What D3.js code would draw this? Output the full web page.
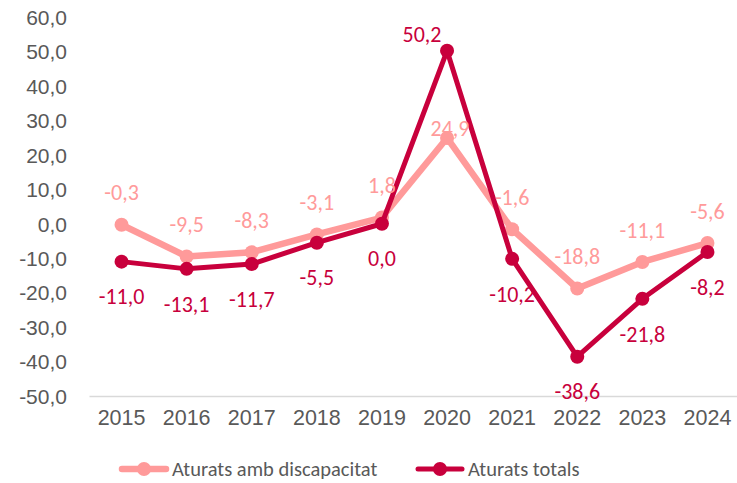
<!DOCTYPE html>
<html>
<head>
<meta charset="utf-8">
<script src="https://cdn.jsdelivr.net/npm/d3@7"></script>
<style>
  html, body { margin: 0; padding: 0; background: #fff; }
  svg { display: block; font-family: Carlito, Lato, "Liberation Sans", sans-serif; }
</style>
</head>
<body>
<svg id="chart" width="737" height="483"></svg>
<script>
// Annual variation (%) of registered unemployment
const years = ["2015", "2016", "2017", "2018", "2019", "2020", "2021", "2022", "2023", "2024"];
const disabilityValues = [-0.3, -9.5, -8.3, -3.1, 1.8, 24.9, -1.6, -18.8, -11.1, -5.6];
const totalValues = [-11.0, -13.1, -11.7, -5.5, 0.0, 50.2, -10.2, -38.6, -21.8, -8.2];
const yTicks = [60, 50, 40, 30, 20, 10, 0, -10, -20, -30, -40, -50];
const seriesNames = ["Aturats amb discapacitat", "Aturats totals"];

const fmt = v => d3.format(".1f")(v).replace(".", ",").replace("−", "-");

const svg = d3.select("#chart");

const x = d3.scaleBand().domain(years).range([89, 740]).paddingInner(0).paddingOuter(0);
const cx = d => x(d) + x.bandwidth() / 2;
const y = d3.scaleLinear().domain([-50, 60]).range([396, 17]);

const textGrey = "#595959";
const lightColor = "#FF9A9A";
const darkColor = "#C8003C";

// Y axis labels (no axis line, no gridlines)
const yAxis = svg.append("g")
  .attr("transform", "translate(67,0)")
  .call(d3.axisLeft(y).tickValues(yTicks).tickFormat(fmt).tickSize(0).tickPadding(0));
yAxis.select(".domain").remove();
yAxis.selectAll("text")
  .attr("fill", textGrey)
  .style("font-size", "21px")
  .attr("dy", "0.35em");

// X axis along the bottom of the plot
const xAxis = svg.append("g")
  .attr("transform", `translate(0,${y(-50)})`)
  .call(d3.axisBottom(x).tickSize(0).tickPadding(14));
xAxis.select(".domain").attr("stroke", "#D9D9D9").attr("stroke-width", 1.3);
xAxis.selectAll("text")
  .attr("fill", textGrey)
  .style("font-size", "21.5px");

const line = d3.line().x((d, i) => cx(years[i])).y(d => y(d));

const series = [
  { name: seriesNames[0], values: disabilityValues, color: lightColor, width: 6.5, r: 7, labelDy: -32 },
  { name: seriesNames[1], values: totalValues, color: darkColor, width: 5, r: 7, labelDy: 35 }
];

// Individual label placements that differ from the series default
const labelNudges = {
  [seriesNames[0] + "|2020"]: { dx: 3, dy: -10 },
  [seriesNames[1] + "|2020"]: { dx: -25, dy: -16 }
};

series.forEach(s => {
  const g = svg.append("g");
  g.append("path")
    .datum(s.values)
    .attr("fill", "none")
    .attr("stroke", s.color)
    .attr("stroke-width", s.width)
    .attr("stroke-linejoin", "round")
    .attr("d", line);
  g.selectAll("circle")
    .data(s.values)
    .join("circle")
    .attr("cx", (d, i) => cx(years[i]))
    .attr("cy", d => y(d))
    .attr("r", s.r)
    .attr("fill", s.color);
});

series.forEach(s => {
  svg.append("g").selectAll("text")
    .data(s.values)
    .join("text")
    .attr("x", (d, i) => {
      const n = labelNudges[s.name + "|" + years[i]];
      return cx(years[i]) + (n ? n.dx : 0);
    })
    .attr("y", (d, i) => {
      const n = labelNudges[s.name + "|" + years[i]];
      return y(d) + (n ? n.dy : s.labelDy);
    })
    .attr("dy", "0.35em")
    .attr("text-anchor", "middle")
    .attr("fill", s.color)
    .style("font-size", "22px")
    .text(d => fmt(d));
});

// Legend
const legendItems = [
  { name: seriesNames[0], color: lightColor, width: 6.5, x: 120 },
  { name: seriesNames[1], color: darkColor, width: 5, x: 416 }
];
const legendY = 469;
const lg = svg.append("g");
legendItems.forEach(it => {
  lg.append("line")
    .attr("x1", it.x + 2).attr("x2", it.x + 46)
    .attr("y1", legendY).attr("y2", legendY)
    .attr("stroke", it.color).attr("stroke-width", it.width)
    .attr("stroke-linecap", "round");
  lg.append("circle")
    .attr("cx", it.x + 24).attr("cy", legendY).attr("r", 7)
    .attr("fill", it.color);
  lg.append("text")
    .attr("x", it.x + 52).attr("y", legendY)
    .attr("dy", "0.35em")
    .attr("fill", textGrey)
    .style("font-size", "20.5px")
    .text(it.name);
});
</script>
</body>
</html>
